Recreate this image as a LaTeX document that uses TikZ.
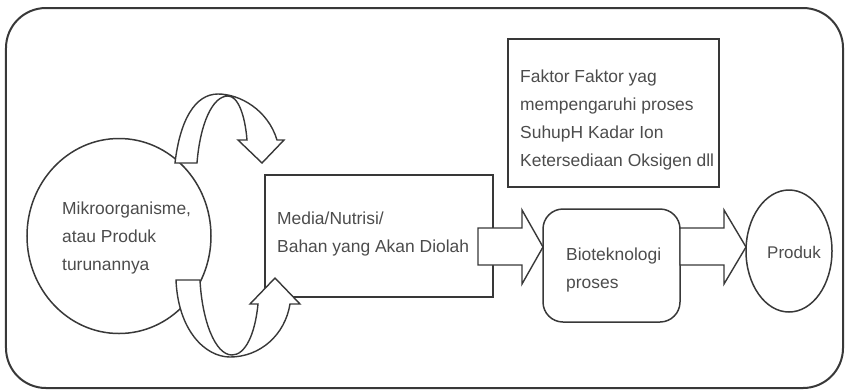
\documentclass[tikz,border=0pt]{standalone}
\usepackage{fontspec}
\setmainfont{Liberation Sans}
\usetikzlibrary{shapes.geometric}
\definecolor{ln}{HTML}{383838}
\definecolor{tx}{HTML}{4C4C4C}
\begin{document}
\begin{tikzpicture}[x=1bp,y=-1bp,
  shapeline/.style={draw=ln, line width=1.5bp, inner sep=0pt},
  lbl/.style={text=tx, font=\fontsize{17.5}{28}\selectfont, align=left, anchor=west, inner sep=0pt},
  blockarrow/.style={draw=ln, line width=1.4bp, fill=white, line join=miter}]
\useasboundingbox (0,0) rectangle (848,391);
% frame
\node[shapeline, line width=2bp, rounded corners=40bp, minimum width=837bp, minimum height=380bp] (frame) at (424.5,198) {};
% shapes
\node[shapeline, ellipse, minimum width=184bp, minimum height=195bp] (mikro) at (119,236) {};
\node[shapeline, rectangle, minimum width=228bp, minimum height=122bp] (media) at (379,236) {};
\node[shapeline, rectangle, minimum width=211bp, minimum height=148bp] (faktor) at (613.5,113) {};
\node[shapeline, rectangle, rounded corners=20bp, minimum width=137bp, minimum height=113bp] (bio) at (611.5,265.5) {};
\node[shapeline, ellipse, minimum width=86bp, minimum height=122bp] (produk) at (789,251) {};
% texts
\node[lbl] (tmikro) at (62,238) {Mikroorganisme,\\atau Produk\\turunannya};
\node[lbl] (tmedia) at (277,234) {Media/Nutrisi/\\Bahan yang Akan Diolah};
\node[lbl] (tfaktor) at (520,120) {Faktor Faktor yag\\mempengaruhi proses\\SuhupH Kadar Ion\\Ketersediaan Oksigen dll};
\node[lbl] (tbio) at (566,270) {Bioteknologi\\proses};
\node[lbl, font=\fontsize{17}{28}\selectfont] (tprod) at (767,252) {Produk};
% straight block arrows
\coordinate (a1tip) at (543,247);
\coordinate (a2tip) at (746,247);
\draw[blockarrow] (478,228) -- (522,228) -- (522,210) -- (a1tip) -- (522,284) -- (522,265) -- (478,265) -- cycle;
\draw[blockarrow] (680,228) -- (724,228) -- (724,210) -- (a2tip) -- (724,284) -- (724,265) -- (680,265) -- cycle;
% curved block arrow (top)
\draw[blockarrow] (175,163) .. controls (180,120) and (195,94) .. (218,94)
  .. controls (240,94) and (268,110) .. (277,140) -- (284,140) -- (262,163) -- (238,140) -- (247,140)
  .. controls (245,115) and (238,96) .. (228,96) .. controls (212,96) and (200,125) .. (197,163) -- cycle;
% curved block arrow (bottom)
\draw[blockarrow] (176,280) .. controls (178,330) and (205,357) .. (230,357)
  .. controls (260,357) and (285,335) .. (290,304) -- (300,304) -- (275,278) -- (250,304) -- (258,304)
  .. controls (255,335) and (245,355) .. (232,355) .. controls (215,355) and (202,320) .. (200,280) -- cycle;
\end{tikzpicture}
\end{document}
